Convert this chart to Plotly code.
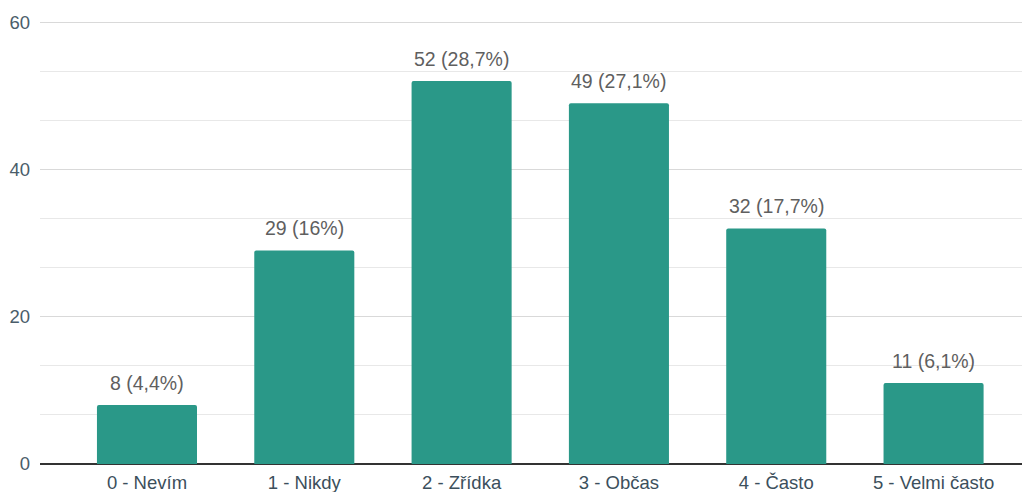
import plotly.graph_objects as go

categories = ["0 - Nevím", "1 - Nikdy", "2 - Zřídka", "3 - Občas", "4 - Často", "5 - Velmi často"]
counts = [8, 29, 52, 49, 32, 11]

total = sum(counts)

def fmt_pct(c):
    p = round(c / total * 100, 1)
    s = f"{p:.1f}".rstrip("0").rstrip(".")
    return f"{c} ({s.replace('.', ',')}%)"

labels = [fmt_pct(c) for c in counts]
xs = list(range(len(categories)))

FONT = "Arial, 'Liberation Sans', sans-serif"

fig = go.Figure()
fig.add_trace(go.Bar(
    x=xs, y=counts, width=0.636,
    marker=dict(color="#2a9888", line=dict(width=0)),
    hoverinfo="skip",
))
for x, c, t in zip(xs, counts, labels):
    fig.add_annotation(x=x, y=c, text=t, showarrow=False, yanchor="bottom", yshift=9,
                       font=dict(family=FONT, size=19.5, color="#5f5f5f"))

fig.update_layout(
    width=1022, height=484,
    margin=dict(l=32, r=0, t=12, b=28),
    plot_bgcolor="white", paper_bgcolor="white",
    showlegend=False, barcornerradius=2,
    font=dict(family=FONT),
)
fig.update_xaxes(
    range=[-0.68, 5.613], tickvals=xs, ticktext=categories,
    showgrid=False, zeroline=False, showline=False, ticks="",
    tickfont=dict(size=18.5, color="#3c4f5c"), ticklabelstandoff=5,
)
fig.update_yaxes(
    range=[0, 60.3], tickvals=[0, 20, 40, 60], showgrid=True, gridcolor="#d9d9d9", gridwidth=1,
    minor=dict(tickvals=[20/3, 40/3, 80/3, 100/3, 140/3, 160/3], showgrid=True, gridcolor="#e8e8e8", gridwidth=1),
    zeroline=True, zerolinecolor="#333333", zerolinewidth=1.5,
    tickfont=dict(size=18.5, color="#4a5d6a"), ticks="", ticklabelstandoff=9,
)
fig.write_html("out.html")
